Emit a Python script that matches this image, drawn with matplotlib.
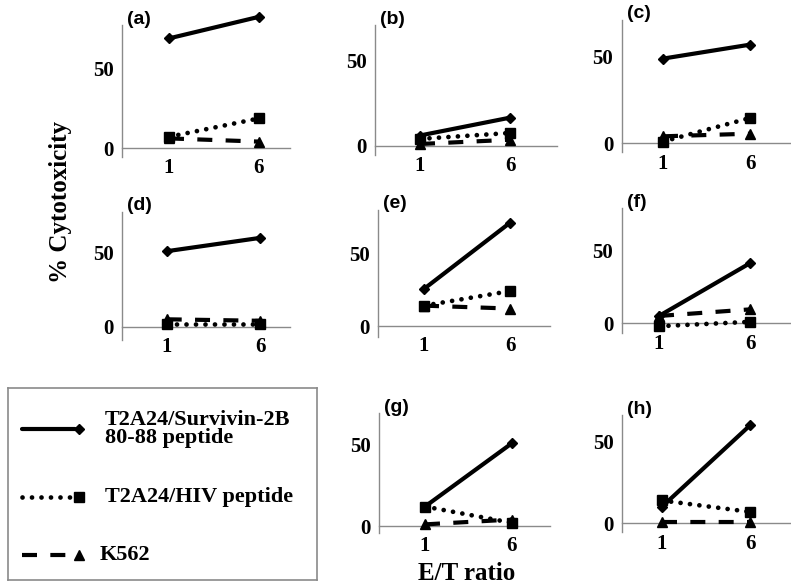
import matplotlib
matplotlib.use("Agg")
import matplotlib.pyplot as plt

# ---- data ----
et_ratio = [1, 6]
panel_labels = ["(a)", "(b)", "(c)", "(d)", "(e)", "(f)", "(g)", "(h)"]
survivin = [[68.5, 82], [6, 16.5], [48.5, 56.5], [51, 60],
            [25.5, 71], [5, 41], [12, 51], [10, 60]]
hiv = [[7, 18.5], [4, 7.5], [1, 14.5], [2, 2],
       [14, 24], [-2, 1], [12, 2], [14, 7]]
k562 = [[6, 4], [1, 3.5], [4, 5.5], [5, 4],
        [14, 12], [5, 9.5], [1, 4], [1, 1]]
yticks = [0, 50]
series_names = ["T2A24/Survivin-2B\n80-88 peptide", "T2A24/HIV peptide", "K562"]

# ---- layout (pixel geometry of each panel) ----
# x0 (y-axis), px of x=1, px of x=6, px of y=0, px of y=50, top px, bottom px, right px
geom = [
    (122, 169, 259, 148, 68, 25, 157, 290),
    (375, 420, 510, 145.7, 60.7, 25, 155, 557),
    (621.7, 663, 750, 143.3, 56, 20, 151.7, 791),
    (122, 166.7, 260, 326.7, 252.7, 211.7, 340, 290),
    (378, 424, 510, 326, 253.3, 210, 336.7, 550),
    (621.7, 659, 750, 323.3, 250, 208, 333, 791),
    (379, 425, 511.7, 526, 445, 413, 533, 550),
    (622, 661.7, 750, 523.3, 441.7, 415, 532, 791),
]

W, H = 791, 588
fig = plt.figure(figsize=(W / 100, H / 100), dpi=100)
fig.patch.set_facecolor("white")

serif = "Liberation Serif"
sans = "Liberation Sans"
axis_color = "#8a8a8a"
LW = 3.0

styles = [
    dict(color="black", lw=LW, ls="-", marker="D", ms=5.5, solid_capstyle="round"),
    dict(color="black", lw=3.4, ls=(0, (0.01, 2.0)), dash_capstyle="round", marker="s", ms=6.5),
    dict(color="black", lw=LW, ls=(0, (3.6, 3.2)), dash_capstyle="butt", marker="^", ms=7),
]

for i, g in enumerate(geom):
    x0, x1, x6, y0, y50, top, bot, right = g
    pxu = (x6 - x1) / 5.0
    pyu = (y0 - y50) / 50.0
    xmin = 1 - (x1 - x0) / pxu
    xmax = 6 + (right - x6) / pxu
    ymin = -(bot - y0) / pyu
    ymax = (y0 - top) / pyu
    ax = fig.add_axes([x0 / W, 1 - bot / H, (right - x0) / W, (bot - top) / H])
    ax.set_xlim(xmin, xmax)
    ax.set_ylim(ymin, ymax)
    ax.patch.set_alpha(0)
    for s in ["top", "right"]:
        ax.spines[s].set_visible(False)
    ax.spines["bottom"].set_position(("data", 0))
    for s in ["left", "bottom"]:
        ax.spines[s].set_color(axis_color)
        ax.spines[s].set_linewidth(1.0)
    ax.set_xticks(et_ratio)
    ax.set_yticks(yticks)
    ax.tick_params(length=0)
    ax.tick_params(axis="y", pad=6)
    ax.tick_params(axis="x", pad=7.5)
    for lab in ax.get_xticklabels() + ax.get_yticklabels():
        lab.set_fontfamily(serif)
        lab.set_fontweight("bold")
        lab.set_fontsize(15)
    for data, st in zip([survivin[i], hiv[i], k562[i]], styles):
        ax.plot(et_ratio, data, clip_on=False, zorder=3, **st)
    ax.annotate(panel_labels[i], xy=(0, 1), xycoords="axes fraction",
                xytext=(5, 6), textcoords="offset pixels", ha="left", va="center",
                fontfamily=sans, fontweight="bold", fontsize=14)

# y label and x label
fig.text(60 / W, 1 - 202 / H, "% Cytotoxicity", rotation=90, ha="center", va="center",
         fontfamily=serif, fontweight="bold", fontsize=18)
fig.text(467 / W, 1 - 574 / H, "E/T ratio", ha="center", va="center",
         fontfamily=serif, fontweight="bold", fontsize=18)

# legend box
lx0, lx1, ly0, ly1 = 8, 317, 388, 580
lax = fig.add_axes([lx0 / W, 1 - ly1 / H, (lx1 - lx0) / W, (ly1 - ly0) / H])
lax.set_xlim(lx0, lx1)
lax.set_ylim(ly1, ly0)
lax.set_xticks([])
lax.set_yticks([])
for s in lax.spines.values():
    s.set_color(axis_color)
    s.set_linewidth(1.2)

rows_y = [429, 497, 555]
text_x = [105, 105, 100]
for st, yy, tx, name in zip(styles, rows_y, text_x, series_names):
    st2 = dict(st)
    mk = st2.pop("marker")
    ms = st2.pop("ms")
    lax.plot([22, 75], [yy, yy], **st2)
    lax.plot([79], [yy], marker=mk, ms=ms, color="black", ls="none")
    lax.text(tx, yy, name, ha="left", va="center", fontfamily=serif,
             fontweight="bold", fontsize=16, linespacing=0.9)

fig.savefig("out.png", dpi=100)
